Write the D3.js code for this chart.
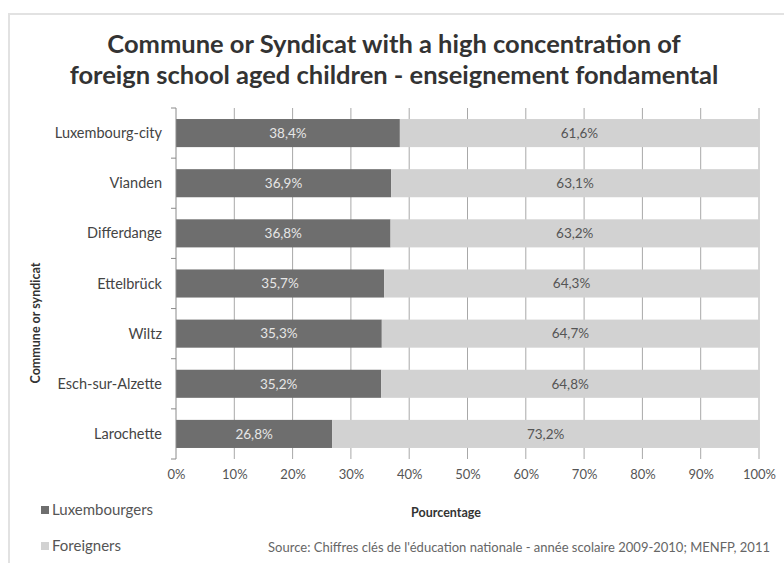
<!DOCTYPE html>
<html><head><meta charset="utf-8">
<script src="https://cdn.jsdelivr.net/npm/d3@7"></script>
<style>
body{margin:0;background:#fff;}
svg text{font-family:Lato,"Open Sans",sans-serif;}
</style></head>
<body><svg id="c" width="784" height="563"></svg>
<script>
const categories = ["Luxembourg-city","Vianden","Differdange","Ettelbrück","Wiltz","Esch-sur-Alzette","Larochette"];
const luxembourgers = [38.4,36.9,36.8,35.7,35.3,35.2,26.8];
const foreigners = [61.6,63.1,63.2,64.3,64.7,64.8,73.2];
const seriesNames = ["Luxembourgers","Foreigners"];
const xTicks = [0,10,20,30,40,50,60,70,80,90,100];
const titleLines = ["Commune or Syndicat with a high concentration of","foreign school aged children - enseignement fondamental"];

const svg = d3.select("#c");
const colors = ["#6e6e6e","#d2d2d2"];

// frame
svg.append("path").attr("d","M9,563 L9,14 L784,14").attr("fill","none").attr("stroke","#e2e2e2").attr("stroke-width",2);

const x = d3.scaleLinear().domain([0,100]).range([176,759]);
const y = d3.scaleBand().domain(categories).range([108,459]).paddingInner(0.44).paddingOuter(0.22);

// gridlines
svg.append("g").selectAll("line").data(xTicks.slice(1)).join("line")
  .attr("x1",d=>x(d)).attr("x2",d=>x(d)).attr("y1",108).attr("y2",459)
  .attr("stroke","#a8a8a8").attr("stroke-width",1);

const stack = categories.map((c,i)=>({c, a:luxembourgers[i], b:foreigners[i]}));
const g = svg.append("g");
g.selectAll("rect.a").data(stack).join("rect").attr("class","a")
  .attr("x",x(0)).attr("y",d=>y(d.c)).attr("width",d=>x(d.a)-x(0)).attr("height",y.bandwidth()).attr("fill",colors[0]);
g.selectAll("rect.b").data(stack).join("rect").attr("class","b")
  .attr("x",d=>x(d.a)).attr("y",d=>y(d.c)).attr("width",d=>x(d.a+d.b)-x(d.a)).attr("height",y.bandwidth()).attr("fill",colors[1]);

const fmt = v => v.toFixed(1).replace(".",",")+"%";
g.selectAll("text.a").data(stack).join("text").attr("class","a")
  .attr("x",d=>x(d.a/2)).attr("y",d=>y(d.c)+y.bandwidth()/2).attr("dy","0.35em")
  .attr("text-anchor","middle").attr("font-size",13.5).attr("fill","#e6e6e6").text(d=>fmt(d.a));
g.selectAll("text.b").data(stack).join("text").attr("class","b")
  .attr("x",d=>x(d.a+d.b/2)).attr("y",d=>y(d.c)+y.bandwidth()/2).attr("dy","0.35em")
  .attr("text-anchor","middle").attr("font-size",13.5).attr("fill","#555").text(d=>fmt(d.b));

// y axis
const yAx = svg.append("g").attr("transform","translate(176,0)");
yAx.append("line").attr("x1",0).attr("x2",0).attr("y1",108).attr("y2",459).attr("stroke","#8a8a8a");
const bounds = d3.range(categories.length+1).map(i=>108 + i*(459-108)/categories.length);
yAx.selectAll("line.t").data(bounds).join("line").attr("class","t")
  .attr("x1",-5).attr("x2",0).attr("y1",d=>d).attr("y2",d=>d).attr("stroke","#8a8a8a");
yAx.selectAll("text").data(categories).join("text")
  .attr("x",-14).attr("y",d=>y(d)+y.bandwidth()/2).attr("dy","0.35em")
  .attr("text-anchor","end").attr("font-size",14.5).attr("fill","#444").text(d=>d);

// x axis
const xAx = svg.append("g").attr("transform","translate(0,459)")
  .call(d3.axisBottom(x).tickValues(xTicks).tickSize(0).tickFormat(d=>d+"%"));
xAx.select(".domain").remove();
xAx.selectAll("text").attr("font-size",13).attr("fill","#555").attr("dy","1.3em").style("font-family","Lato,sans-serif");

// titles
svg.append("g").selectAll("text").data(titleLines).join("text")
  .attr("x",394).attr("y",(d,i)=>53+i*31).attr("text-anchor","middle")
  .attr("font-size",25.5).attr("font-weight","bold").attr("fill","#333").text(d=>d);

svg.append("text").attr("x",446).attr("y",517).attr("text-anchor","middle")
  .attr("font-size",12.5).attr("font-weight","bold").attr("fill","#333").text("Pourcentage");

svg.append("text").attr("transform","translate(40,323) rotate(-90)").attr("text-anchor","middle")
  .attr("font-size",12.5).attr("font-weight","bold").attr("fill","#333").text("Commune or syndicat");

// legend
const leg = svg.append("g");
seriesNames.forEach((n,i)=>{
  const yy = 510 + i*36;
  leg.append("rect").attr("x",41).attr("y",yy-4).attr("width",8).attr("height",8).attr("fill",colors[i]);
  leg.append("text").attr("x",52).attr("y",yy).attr("dy","0.35em").attr("font-size",15).attr("fill","#555").text(n);
});

svg.append("text").attr("x",770).attr("y",552).attr("text-anchor","end")
  .attr("font-size",13).attr("fill","#666")
  .text("Source: Chiffres clés de l'éducation nationale - année scolaire 2009-2010;  MENFP, 2011");
</script></body></html>
